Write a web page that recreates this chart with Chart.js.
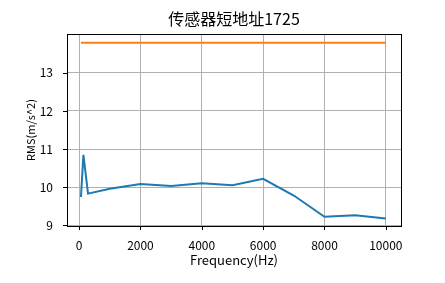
<!DOCTYPE html>
<html>
<head>
<meta charset="utf-8">
<script src="https://cdn.jsdelivr.net/npm/chart.js@4/dist/chart.umd.min.js"></script>
<style>
  html, body { margin: 0; padding: 0; background: #fff; }
  #wrap { width: 445px; height: 283px; }
</style>
</head>
<body>
<div id="wrap"><canvas id="rmsChart" width="445" height="283"></canvas></div>
<script>
// data
var freqs = [60, 140, 290, 1000, 2000, 3000, 4000, 5000, 6000, 7000, 8000, 9000, 10000];
var rms = [9.74, 10.85, 9.83, 9.96, 10.08, 10.03, 10.1, 10.05, 10.22, 9.78, 9.22, 9.26, 9.18];
var limitFreqs = [60, 10000];
var limitRms = [13.79, 13.79];
var xTicks = [0, 2000, 4000, 6000, 8000, 10000];
var yTicks = [9, 10, 11, 12, 13];

var FONT = "'Noto Sans CJK SC', 'DejaVu Sans', sans-serif";

function toPoints(xs, ys) {
    return xs.map(function (x, i) { return {x: x, y: ys[i]}; });
}

// black box and outward tick marks, like matplotlib
var frameAndTicks = {
    id: 'frameAndTicks',
    afterDraw: function (chart) {
        var ctx = chart.ctx, a = chart.chartArea;
        var xs = chart.scales.x, ys = chart.scales.y;
        ctx.save();
        ctx.strokeStyle = '#000';
        ctx.lineWidth = 1;
        ctx.beginPath();
        xTicks.forEach(function (t) {
            var px = Math.round(xs.getPixelForValue(t)) + 0.5;
            ctx.moveTo(px, a.bottom);
            ctx.lineTo(px, a.bottom + 4);
        });
        yTicks.forEach(function (t) {
            var py = Math.round(ys.getPixelForValue(t)) + 0.5;
            ctx.moveTo(a.left - 4, py);
            ctx.lineTo(a.left, py);
        });
        ctx.stroke();
        ctx.strokeRect(Math.round(a.left) + 0.5, Math.round(a.top) + 0.5,
            Math.round(a.right - a.left), Math.round(a.bottom - a.top));
        ctx.restore();
    }
};

function plain(v) { return String(v); }

new Chart(document.getElementById('rmsChart').getContext('2d'), {
    type: 'line',
    data: {
        datasets: [{
            data: toPoints(freqs, rms),
            borderColor: '#1f77b4',
            borderWidth: 2,
            pointRadius: 0,
            tension: 0
        }, {
            data: toPoints(limitFreqs, limitRms),
            borderColor: '#ff7f0e',
            borderWidth: 2,
            pointRadius: 0,
            tension: 0
        }]
    },
    options: {
        responsive: false,
        animation: false,
        layout: {padding: {left: 0, right: 44, top: 0, bottom: 0}},
        plugins: {
            legend: {display: false},
            tooltip: {enabled: false},
            title: {
                display: true,
                fullSize: false,
                text: '传感器短地址1725',
                color: '#000',
                font: {family: FONT, size: 16, weight: 'normal', lineHeight: 1.2},
                padding: {top: 9, bottom: 5.8}
            }
        },
        scales: {
            x: {
                type: 'linear',
                min: -395,
                max: 10495,
                afterBuildTicks: function (s) {
                    s.ticks = xTicks.map(function (v) { return {value: v}; });
                },
                afterFit: function (s) {
                    s.height = 57;
                    s.paddingLeft = 0;
                    s.paddingRight = 0;
                },
                grid: {color: '#b0b0b0', lineWidth: 1, drawTicks: false},
                border: {display: false},
                ticks: {
                    color: '#000',
                    padding: 12,
                    maxRotation: 0,
                    autoSkip: false,
                    callback: plain,
                    font: {family: FONT, size: 12}
                },
                title: {
                    display: true,
                    text: 'Frequency(Hz)',
                    color: '#000',
                    font: {family: FONT, size: 13, lineHeight: 1.2},
                    padding: {top: 0, bottom: 15}
                }
            },
            y: {
                type: 'linear',
                min: 8.98,
                max: 14.02,
                afterBuildTicks: function (s) {
                    s.ticks = yTicks.map(function (v) { return {value: v}; });
                },
                afterFit: function (s) {
                    s.width = 67;
                    s.paddingTop = 0;
                    s.paddingBottom = 0;
                },
                grid: {color: '#b0b0b0', lineWidth: 1, drawTicks: false},
                border: {display: false},
                ticks: {
                    color: '#000',
                    padding: 14,
                    callback: plain,
                    font: {family: FONT, size: 12}
                },
                title: {
                    display: true,
                    text: 'RMS(m/s^2)',
                    color: '#000',
                    font: {family: FONT, size: 11, lineHeight: 1.2},
                    padding: {top: 24, bottom: 0}
                }
            }
        }
    },
    plugins: [frameAndTicks]
});
</script>
</body>
</html>
